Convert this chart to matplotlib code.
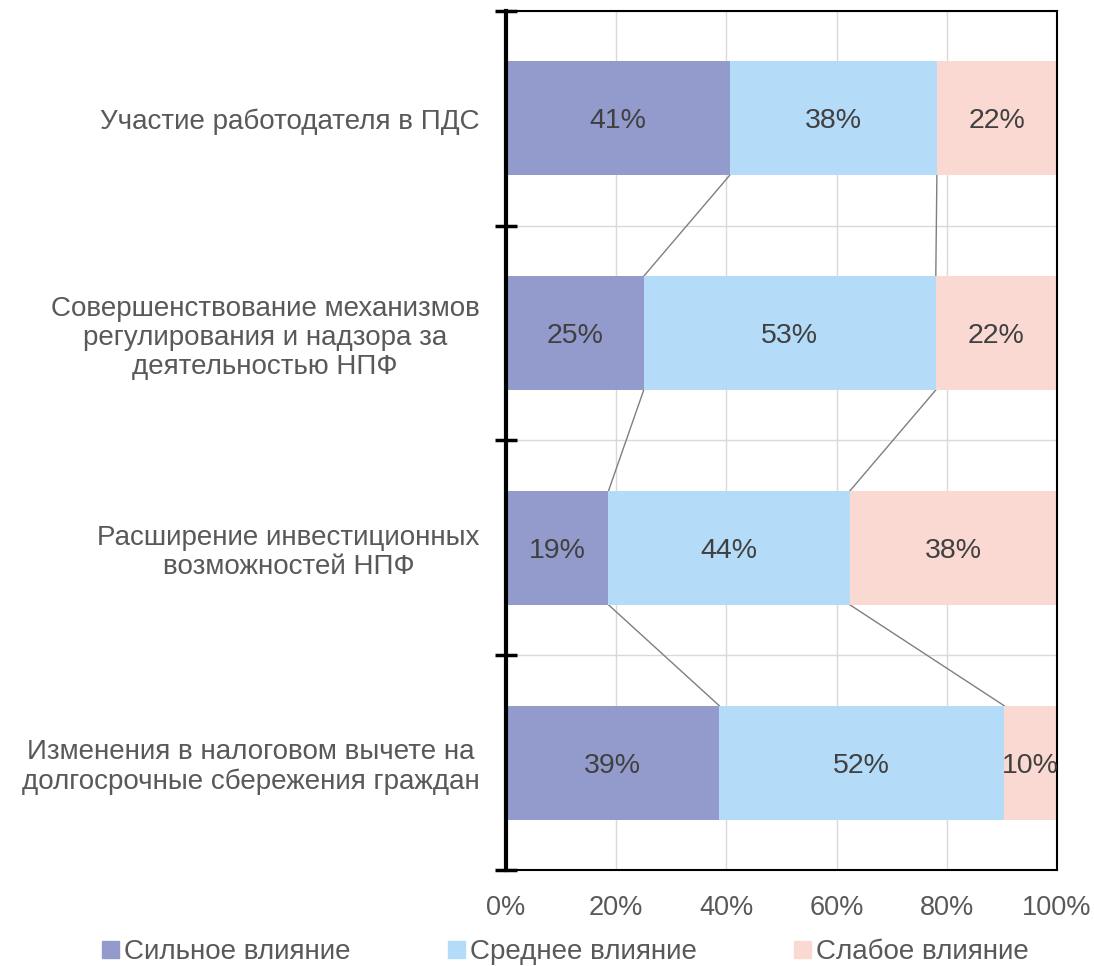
import matplotlib.pyplot as plt
import numpy as np
from matplotlib.patches import Patch

plt.rcParams['font.family'] = ['Liberation Sans', 'DejaVu Sans']

categories = ['Участие работодателя в ПДС',
              'Совершенствование механизмов\nрегулирования и надзора за\nдеятельностью НПФ',
              'Расширение инвестиционных\nвозможностей НПФ',
              'Изменения в налоговом вычете на\nдолгосрочные сбережения граждан']
strong = [40.6, 25.0, 18.6, 38.7]
medium = [37.6, 53.0, 43.8, 51.7]
weak = [21.8, 22.0, 37.6, 9.6]
series_names = ['Сильное влияние', 'Среднее влияние', 'Слабое влияние']
colors = ['#939BCC', '#B4DCF8', '#FAD9D3']
text_color = '#595959'
label_color = '#404040'

fig = plt.figure(figsize=(10.94, 9.66), dpi=100)
ax = fig.add_axes([0.4625, 0.0994, 0.5037, 0.8892])

y = np.arange(len(categories))
bar_h = 0.53
left = np.zeros(len(categories))
for vals, col in zip([strong, medium, weak], colors):
    vals = np.array(vals)
    ax.barh(y, vals, left=left, height=bar_h, color=col, zorder=2)
    for yi, l, v in zip(y, left, vals):
        ax.text(l + v / 2, yi, f'{round(v):d}%', ha='center', va='center_baseline',
                fontsize=20.5, color=label_color, zorder=3)
    left = left + vals

# series lines between bars
cum1 = np.array(strong)
cum2 = cum1 + np.array(medium)
for cum in [cum1, cum2]:
    for i in range(len(categories) - 1):
        ax.plot([cum[i], cum[i + 1]], [y[i] + bar_h / 2, y[i + 1] - bar_h / 2],
                color='#7F7F7F', lw=1, zorder=1)

ax.set_xlim(0, 100)
ax.set_ylim(len(categories) - 0.5, -0.5)
ax.set_xticks(np.arange(0, 101, 20))
ax.set_xticklabels([f'{v}%' for v in range(0, 101, 20)])
ax.set_yticks(np.arange(-0.5, len(categories)), minor=False)
ax.set_yticklabels([])
ax.set_yticks(y, minor=True)
ax.set_yticklabels(categories, minor=True)
ax.tick_params(axis='y', which='minor', length=0, pad=19, labelsize=20, labelcolor=text_color)
ax.tick_params(axis='y', which='major', direction='inout', length=16, width=2.5, color='black')
ax.tick_params(axis='x', length=0, pad=18, labelsize=19.5, labelcolor=text_color)
for lbl in ax.get_yticklabels(minor=True):
    lbl.set_multialignment('center')
    lbl.set_linespacing(1.15)

ax.grid(True, which='major', color='#D9D9D9', lw=1, zorder=0)
ax.set_axisbelow(True)
ax.spines['left'].set_linewidth(3)
for s in ['top', 'right', 'bottom']:
    ax.spines[s].set_linewidth(1.5)
    ax.spines[s].set_color('black')

handles = [Patch(color=c) for c in colors]
fig.legend(handles, series_names, loc='lower center', ncol=3, frameon=False,
           fontsize=20, labelcolor=text_color, bbox_to_anchor=(0.517, -0.025),
           handlelength=0.6, handleheight=0.6, handletextpad=0.2, columnspacing=3.5)

fig.savefig('out.png', dpi=100)
